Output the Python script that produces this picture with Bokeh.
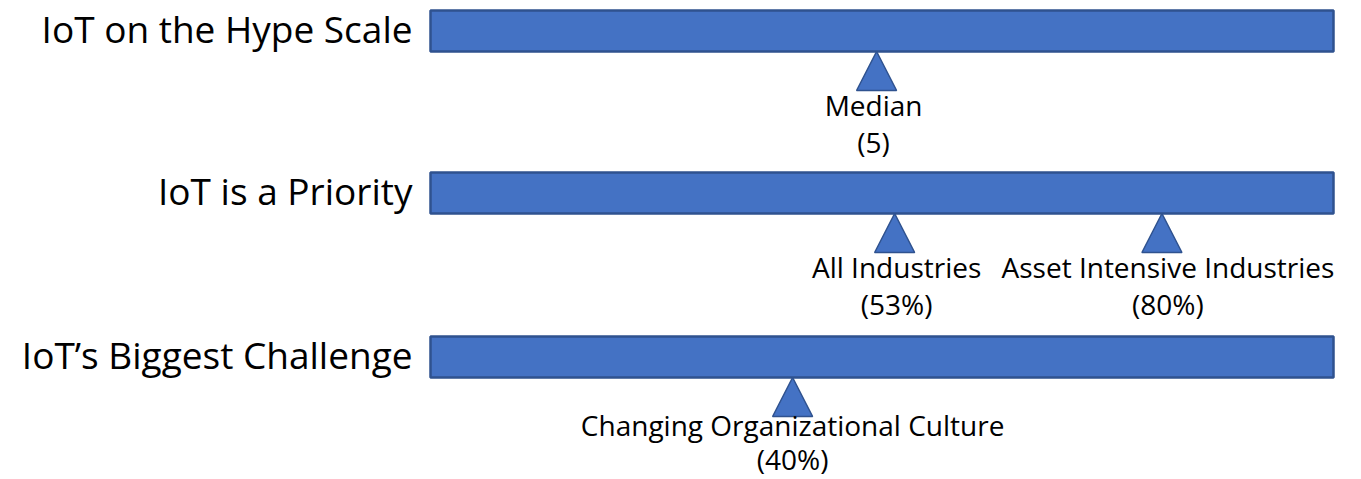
from bokeh.plotting import figure
from bokeh.models import ColumnDataSource, Range1d
from bokeh.core.properties import value
from bokeh.embed import file_html
from bokeh.resources import INLINE

# ---- data ----
rows = ["IoT on the Hype Scale", "IoT is a Priority", "IoT\u2019s Biggest Challenge"]
marker_row = [0, 1, 1, 2]
marker_pos = [49.4, 51.4, 81.0, 40.1]          # position along each bar (0-100 scale)
marker_name = ["Median", "All Industries", "Asset Intensive Industries", "Changing Organizational Culture"]
marker_value = ["(5)", "(53%)", "(80%)", "(40%)"]
scale_min, scale_max = 0, 100

# ---- layout (pixel coordinates for placement) ----
bar_top = [10, 172, 336]
bar_bottom = [51, 213, 377]
tri_h = 39
line1_y = [104, 266, 424]
line2_y = [141, 303, 458]
label_dx = [-3, 2, 6, 0]

W, H = 1361, 479
px_per_unit = 9.03
tri_hw = 20 / px_per_unit
x_start = -430 / px_per_unit
x_end = x_start + W / px_per_unit

p = figure(width=W, height=H, output_backend="svg", toolbar_location=None,
           x_range=Range1d(x_start, x_end), y_range=Range1d(H, 0),
           min_border=0, outline_line_color=None)
p.xaxis.visible = False
p.yaxis.visible = False
p.xgrid.visible = False
p.ygrid.visible = False
p.background_fill_color = "white"
p.border_fill_color = "white"

FILL = "#4472C4"
EDGE = "#2F528F"

bars = ColumnDataSource(dict(left=[scale_min] * len(rows), right=[scale_max] * len(rows),
                             top=bar_top, bottom=bar_bottom, label=rows,
                             ly=[(t + b) / 2 - 3 for t, b in zip(bar_top, bar_bottom)]))
p.quad(left="left", right="right", top="top", bottom="bottom", source=bars,
       fill_color=FILL, line_color=EDGE, line_width=2.5)

p.text(x=scale_min, y="ly", text="label", source=bars, x_offset=-18,
       text_align="right", text_baseline="middle", text_font=value("Open Sans"),
       text_font_size="37px", text_color="black")

xs, ys, tx, ty1, ty2 = [], [], [], [], []
for r, pos, dx in zip(marker_row, marker_pos, label_dx):
    apex = bar_bottom[r]
    base = apex + tri_h
    xs.append([pos - tri_hw, pos, pos + tri_hw])
    ys.append([base, apex, base])
    tx.append(pos + dx / px_per_unit)
    ty1.append(line1_y[r])
    ty2.append(line2_y[r])

tri = ColumnDataSource(dict(xs=xs, ys=ys))
p.patches("xs", "ys", source=tri, fill_color=FILL, line_color=EDGE, line_width=1.5)

labels = ColumnDataSource(dict(x=tx, y1=ty1, y2=ty2, name=marker_name, val=marker_value))
p.text(x="x", y="y1", text="name", source=labels, text_align="center",
       text_baseline="middle", text_font=value("Open Sans"), text_font_size="28px",
       text_color="black")
p.text(x="x", y="y2", text="val", source=labels, text_align="center",
       text_baseline="middle", text_font=value("Open Sans"), text_font_size="28px",
       text_color="black")

open("out.html", "w").write(file_html(p, INLINE))
